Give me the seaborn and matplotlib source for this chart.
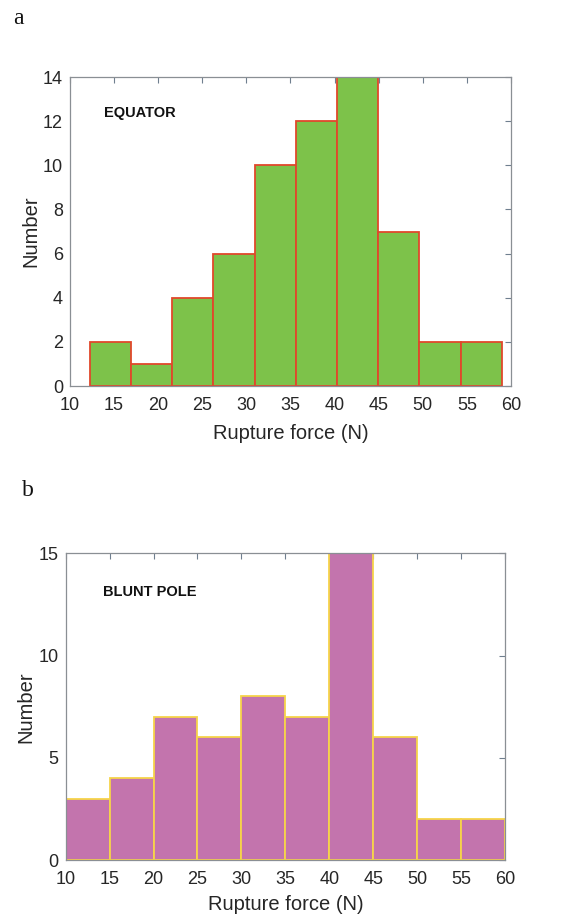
import numpy as np
import pandas as pd
import matplotlib
matplotlib.use("Agg")
import matplotlib.pyplot as plt
import seaborn as sns

# Equator: bin edges and counts
eq_edges = [12.3, 16.95, 21.6, 26.25, 30.95, 35.6, 40.25, 44.95, 49.6, 54.3, 58.95]
eq_counts = [2, 1, 4, 6, 10, 12, 14, 7, 2, 2]

# Blunt pole: bin edges and counts
bp_edges = [10, 15, 20, 25, 30, 35, 40, 45, 50, 55, 60]
bp_counts = [3, 4, 7, 6, 8, 7, 15, 6, 2, 2]

x_ticks = [10, 15, 20, 25, 30, 35, 40, 45, 50, 55, 60]
eq_yticks = [0, 2, 4, 6, 8, 10, 12, 14]
bp_yticks = [0, 5, 10, 15]

sns.set_theme(style="white")
plt.rcParams["font.family"] = ["Liberation Sans", "DejaVu Sans"]

fig = plt.figure(figsize=(5.83, 9.16), dpi=100)
ax1 = fig.add_axes([0.120, 0.5786, 0.7565, 0.3373])
ax2 = fig.add_axes([0.1127, 0.0611, 0.7535, 0.3348])


def draw_hist(ax, edges, counts, fill, edge, yticks, ymax, label, lx, ly,
              xpad, ypad):
    centers = [(a + b) / 2 for a, b in zip(edges[:-1], edges[1:])]
    df = pd.DataFrame({"force": centers, "count": counts})
    sns.histplot(data=df, x="force", weights="count", bins=edges, ax=ax,
                 color=fill, edgecolor=edge, linewidth=1.3, alpha=1.0)
    ax.set_xlim(10, 60)
    ax.set_ylim(0, ymax)
    ax.set_xticks(x_ticks)
    ax.set_yticks(yticks)
    ax.tick_params(axis="both", which="both", direction="in", length=4,
                   color="#6f7f8f", width=0.8, labelsize=13,
                   labelcolor="#262626", top=True, right=True)
    ax.tick_params(axis="x", pad=8)
    ax.tick_params(axis="y", pad=5)
    for s in ax.spines.values():
        s.set_color("#8a8f94")
        s.set_linewidth(0.9)
        s.set_visible(True)
    ax.set_ylabel("Number", fontsize=14.5, color="#262626", labelpad=ypad)
    ax.set_xlabel("Rupture force (N)", fontsize=14.5, color="#262626",
                  labelpad=xpad)
    ax.text(lx, ly, label, fontsize=10.5, fontweight="bold", color="#111111",
            ha="left", va="center")


draw_hist(ax1, eq_edges, eq_counts, "#7DC24A", "#E0482B", eq_yticks, 14,
          "EQUATOR", 13.9, 12.35, 7, 2)
draw_hist(ax2, bp_edges, bp_counts, "#C374AD", "#F6D44A", bp_yticks, 15,
          "BLUNT POLE", 14.2, 13.1, 5, 2)

fig.text(13 / 583, 1 - 18 / 916, "a", fontsize=17, family="Liberation Serif",
         ha="left", va="center", color="#111111")
fig.text(22 / 583, 1 - 490 / 916, "b", fontsize=17, family="Liberation Serif",
         ha="left", va="center", color="#111111")

fig.savefig("out.png", dpi=100)
